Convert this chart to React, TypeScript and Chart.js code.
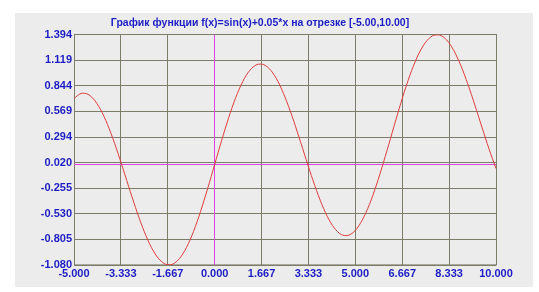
import React, { useEffect, useRef } from "react";
import { Chart, registerables } from "chart.js";

Chart.register(...registerables);

const titleText = "График функции f(x)=sin(x)+0.05*x на отрезке [-5.00,10.00]";

const xValues = [
  -5, -4.75, -4.5, -4.25, -4, -3.75, -3.5, -3.25, -3, -2.75, -2.5, -2.25, -2, -1.75, -1.5, -1.25,
  -1, -0.75, -0.5, -0.25, 0, 0.25, 0.5, 0.75, 1, 1.25, 1.5, 1.75, 2, 2.25, 2.5, 2.75, 3, 3.25,
  3.5, 3.75, 4, 4.25, 4.5, 4.75, 5, 5.25, 5.5, 5.75, 6, 6.25, 6.5, 6.75, 7, 7.25, 7.5, 7.75, 8,
  8.25, 8.5, 8.75, 9, 9.25, 9.5, 9.75, 10,
];

const yValues = [
  0.709, 0.762, 0.753, 0.682, 0.557, 0.384, 0.176, -0.054, -0.291, -0.519, -0.723, -0.891,
  -1.009, -1.071, -1.072, -1.011, -0.891, -0.719, -0.504, -0.26, 0, 0.26, 0.504, 0.719, 0.891,
  1.011, 1.072, 1.071, 1.009, 0.891, 0.723, 0.519, 0.291, 0.054, -0.176, -0.384, -0.557, -0.682,
  -0.753, -0.762, -0.709, -0.596, -0.431, -0.221, 0.021, 0.279, 0.54, 0.788, 1.007, 1.186, 1.313,
  1.382, 1.389, 1.335, 1.223, 1.062, 0.862, 0.636, 0.4, 0.168, -0.044,
];

const xTickValues = [-5, -3.333, -1.667, 0, 1.667, 3.333, 5, 6.667, 8.333, 10];
const xTickLabels = ["-5.000", "-3.333", "-1.667", "0.000", "1.667", "3.333", "5.000", "6.667", "8.333", "10.000"];
const yTickValues = [1.394, 1.119, 0.844, 0.569, 0.294, 0.02, -0.255, -0.53, -0.805, -1.08];
const yTickLabels = ["1.394", "1.119", "0.844", "0.569", "0.294", "0.020", "-0.255", "-0.530", "-0.805", "-1.080"];

const BLUE = "#1c1cc4";
const GRID = "#7c7c68";
const MAGENTA = "#dd44dd";
const RED = "#e03c3c";
const PANEL = "#ececec";

const align = (p: number) => Math.round(p - 0.5) + 0.5;

const panelPlugin = {
  id: "panel",
  beforeDraw(chart: any) {
    const ctx = chart.ctx;
    ctx.save();
    ctx.fillStyle = PANEL;
    ctx.fillRect(15, 13, 518, 274);
    ctx.restore();
  },
};

const axesPlugin = {
  id: "zeroAxes",
  beforeDatasetsDraw(chart: any) {
    const { ctx, chartArea, scales } = chart;
    const x0 = align(scales.x.getPixelForValue(0));
    const y0 = align(scales.y.getPixelForValue(0));
    ctx.save();
    ctx.strokeStyle = GRID;
    ctx.lineWidth = 1;
    ctx.strokeRect(align(chartArea.left), align(chartArea.top), chartArea.right - chartArea.left, chartArea.bottom - chartArea.top);
    ctx.strokeStyle = MAGENTA;
    ctx.beginPath();
    ctx.moveTo(x0, chartArea.top);
    ctx.lineTo(x0, chartArea.bottom);
    ctx.moveTo(chartArea.left, y0);
    ctx.lineTo(chartArea.right, y0);
    ctx.stroke();
    ctx.restore();
  },
};

export default function App() {
  const ref = useRef<HTMLCanvasElement | null>(null);

  useEffect(() => {
    if (!ref.current) return;
    const font = { family: "'Liberation Sans', Arial, sans-serif", size: 11, weight: "bold" as const };
    const chart = new Chart(ref.current, {
      type: "scatter",
      data: {
        datasets: [
          {
            data: xValues.map((x, i) => ({ x, y: yValues[i] })),
            showLine: true,
            borderColor: RED,
            borderWidth: 1,
            pointRadius: 0,
            tension: 0.3,
            fill: false,
          },
        ],
      },
      options: {
        animation: false,
        responsive: false,
        layout: { padding: { left: 24, right: 43, top: 0, bottom: 0 } },
        plugins: {
          legend: { display: false },
          tooltip: { enabled: false },
          title: {
            display: true,
            text: titleText,
            color: BLUE,
            font: { family: "'Liberation Sans', Arial, sans-serif", size: 10.5, weight: "bold" },
            padding: { top: 17, bottom: 5 },
          },
        },
        scales: {
          x: {
            type: "linear",
            min: -5,
            max: 10,
            afterBuildTicks: (s: any) => {
              s.ticks = xTickValues.map((v) => ({ value: v }));
            },
            afterFit: (s: any) => {
              s.height = 27;
            },
            ticks: {
              autoSkip: false,
              maxRotation: 0,
              color: BLUE,
              font,
              padding: 2,
              callback: (_v: any, i: number) => xTickLabels[i],
            },
            grid: {
              color: (c: any) => (c.tick && c.tick.value === 0 ? "rgba(0,0,0,0)" : GRID),
              drawTicks: false,
              lineWidth: 1,
            },
            border: { display: false },
          },
          y: {
            type: "linear",
            min: -1.08,
            max: 1.394,
            afterBuildTicks: (s: any) => {
              s.ticks = yTickValues.map((v) => ({ value: v }));
            },
            afterFit: (s: any) => {
              s.width = 50;
            },
            ticks: {
              autoSkip: false,
              color: BLUE,
              font,
              padding: 2,
              callback: (_v: any, i: number) => yTickLabels[i],
            },
            grid: { color: GRID, drawTicks: false, lineWidth: 1 },
            border: { display: false },
          },
        },
      },
      plugins: [panelPlugin, axesPlugin],
    });
    return () => chart.destroy();
  }, []);

  return (
    <div style={{ position: "fixed", left: 0, top: 0, width: 539, height: 292, background: "#fff" }}>
      <canvas ref={ref} width={539} height={292} style={{ width: 539, height: 292 }} />
    </div>
  );
}
